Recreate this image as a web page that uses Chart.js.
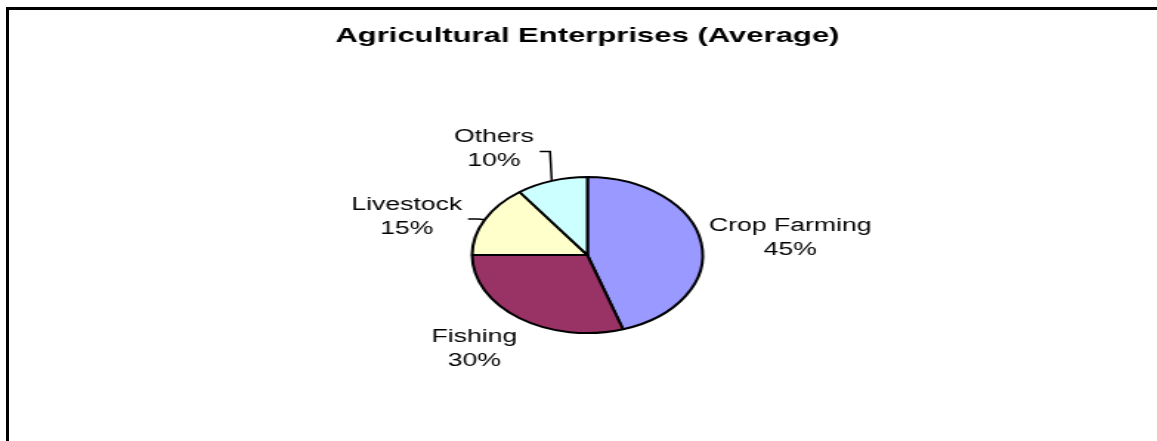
<!DOCTYPE html>
<html>
<head>
<meta charset="utf-8">
<title>Agricultural Enterprises</title>
<script src="https://cdn.jsdelivr.net/npm/chart.js@4.4.0/dist/chart.umd.min.js"></script>
<style>
    html, body {
        margin: 0;
        padding: 0;
        width: 1157px;
        height: 441px;
        overflow: hidden;
        background: #fff;
    }
    /* outer frame, only top and left edges are visible */
    #frame {
        position: absolute;
        left: 6px;
        top: 7px;
        right: -10px;
        bottom: -10px;
        border-top: 3px solid #000;
        border-left: 3px solid #000;
    }
    /* chart is drawn narrow and stretched sideways like the sheet export */
    #wrap {
        position: absolute;
        left: 0;
        top: 0;
        width: 783px;
        height: 441px;
        transform: scaleX(1.4777);
        transform-origin: 0 0;
    }
</style>
</head>
<body>
<div id="frame"></div>
<div id="wrap"><canvas id="pieChart"></canvas></div>
<script>
// Share of agricultural enterprises (%)
let categories = ['Crop Farming', 'Fishing', 'Livestock', 'Others'];
let shares = [45, 30, 15, 10];
let sliceColors = ['#9999FF', '#993366', '#FFFFCC', '#CCFFFF'];

const FONT = '"Liberation Sans", Arial, Helvetica, sans-serif';

// Draws "Name / NN%" outside each slice, with leader lines for the moved ones
const outsideLabels = {
    id: 'outsideLabels',
    afterDatasetsDraw(chart, args, opts) {
        var ctx = chart.ctx;
        var arcs = chart.getDatasetMeta(0).data;
        var values = chart.data.datasets[0].data;
        var total = values.reduce(function (a, b) { return a + b; }, 0);
        var lineH = opts.lineHeight;

        ctx.save();
        ctx.font = opts.size + 'px ' + FONT;
        ctx.fillStyle = '#000';
        ctx.strokeStyle = '#000';
        ctx.lineWidth = 1.5;
        ctx.textAlign = 'center';
        ctx.textBaseline = 'middle';

        for (var i = 0; i < arcs.length; i++) {
            var a = arcs[i].getProps(['x', 'y', 'startAngle', 'endAngle', 'outerRadius'], true);
            var mid = (a.startAngle + a.endAngle) / 2;
            var dx = Math.cos(mid), dy = Math.sin(mid);
            var lines = [chart.data.labels[i], Math.round(values[i] / total * 100) + '%'];
            var halfW = Math.max(ctx.measureText(lines[0]).width, ctx.measureText(lines[1]).width) / 2;
            var halfH = lineH;
            var r = a.outerRadius + opts.gap;
            var shift = opts.shift[i] || [0, 0];
            var cx = a.x + dx * r + dx * halfW + shift[0];
            var cy = a.y + dy * r + dy * halfH + shift[1];

            ctx.fillText(lines[0], cx, cy - lineH / 2);
            ctx.fillText(lines[1], cx, cy + lineH / 2);

            if (opts.leader[i]) {
                var ex = a.x + dx * a.outerRadius;
                var ey = a.y + dy * a.outerRadius;
                var side = ex > cx ? 1 : -1;
                var sx = cx + side * (halfW + 4);
                ctx.beginPath();
                ctx.moveTo(sx, cy + 2);
                ctx.lineTo(sx + side * 7, cy + 2);
                ctx.lineTo(ex, ey);
                ctx.stroke();
            }
        }
        ctx.restore();
    }
};

document.addEventListener('DOMContentLoaded', function () {
    var ctx = document.getElementById('pieChart').getContext('2d');
    new Chart(ctx, {
        type: 'pie',
        data: {
            labels: categories,
            datasets: [{
                data: shares,
                backgroundColor: sliceColors,
                borderColor: '#000',
                borderWidth: 2,
                radius: 78
            }]
        },
        options: {
            responsive: true,
            maintainAspectRatio: false,
            animation: false,
            layout: {
                padding: { left: 12, right: 0, top: 14, bottom: 0 }
            },
            plugins: {
                legend: { display: false },
                tooltip: { enabled: false },
                title: {
                    display: true,
                    text: 'Agricultural Enterprises (Average)',
                    color: '#000',
                    font: { family: FONT, size: 21, weight: 'bold' },
                    padding: { top: 10, bottom: 20 }
                },
                outsideLabels: {
                    size: 18,
                    lineHeight: 24,
                    gap: 6,
                    shift: [[0, 0], [-10, 7], [-14, 11], [-29, -3]],
                    leader: [false, false, true, true]
                }
            }
        },
        plugins: [outsideLabels]
    });
});
</script>
</body>
</html>
